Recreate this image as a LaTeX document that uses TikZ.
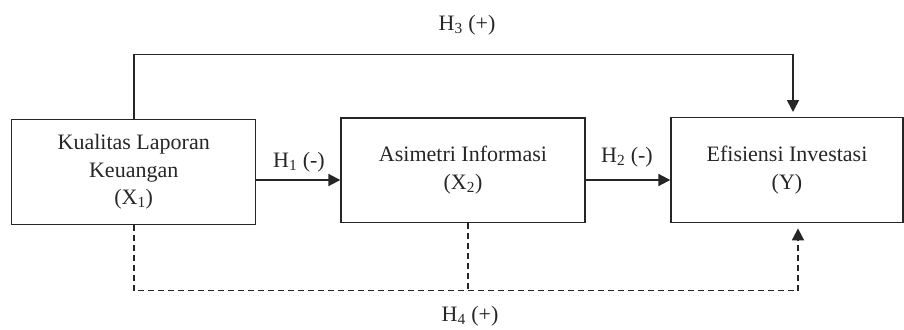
\documentclass[tikz,border=0pt]{standalone}
\usepackage{fontspec}
\setmainfont{Liberation Serif}
\usetikzlibrary{arrows.meta}
\begin{document}
\begin{tikzpicture}[x=1pt,y=-1pt,
  txt/.style={font=\fontsize{22}{27.5}\selectfont, text=black!85},
  box/.style={txt, draw=black!85, line width=1.4pt, align=center, inner sep=0pt},
  solidarrow/.style={draw=black!85, line width=2pt, -{Triangle[length=12pt,width=12pt]}},
  thinline/.style={draw=black!85, line width=1.4pt},
  dashline/.style={draw=black!85, line width=1.5pt, dash pattern=on 6pt off 4pt}]
\useasboundingbox (0,0) rectangle (904,329);
\node[box, minimum width=244pt, minimum height=105pt] (b1) at (133.7,171.8) {Kualitas Laporan\\Keuangan\\(X\textsubscript{1})};
\node[box, minimum width=244pt, minimum height=104.7pt] (b2) at (463,170.3) {Asimetri Informasi\\(X\textsubscript{2})};
\node[box, minimum width=232pt, minimum height=105pt] (b3) at (787,170.2) {Efisiensi Investasi\\(Y)};
\coordinate (ay) at (0,180);
\draw[solidarrow] (b1.east |- ay) -- (b2.west |- ay);
\draw[solidarrow] (b2.east |- ay) -- (b3.west |- ay);
\node[txt] (h1) at (299,162) {H\textsubscript{1} (-)};
\node[txt] (h2) at (627,157.5) {H\textsubscript{2} (-)};
\coordinate (tl) at (134,54.5);
\coordinate (tr) at (793,54.5);
\draw[thinline] (b1.north -| tl) -- (tl) -- (tr);
\draw[solidarrow, line width=1.6pt, shorten >=5pt] (tr) -- (b3.north -| tr);
\node[txt] (h3) at (467,25) {H\textsubscript{3} (+)};
\coordinate (bl) at (134,290.7);
\coordinate (bm) at (468,290.7);
\coordinate (br) at (798,290.7);
\draw[dashline] (b1.south -| bl) -- (bl) -- (br);
\draw[dashline] (b2.south -| bm) -- (bm);
\draw[dashline, -{Triangle[length=12pt,width=12pt]}, line width=1.8pt, shorten >=5pt] (br) -- (b3.south -| br);
\node[txt] (h4) at (470,316) {H\textsubscript{4} (+)};
\end{tikzpicture}
\end{document}
